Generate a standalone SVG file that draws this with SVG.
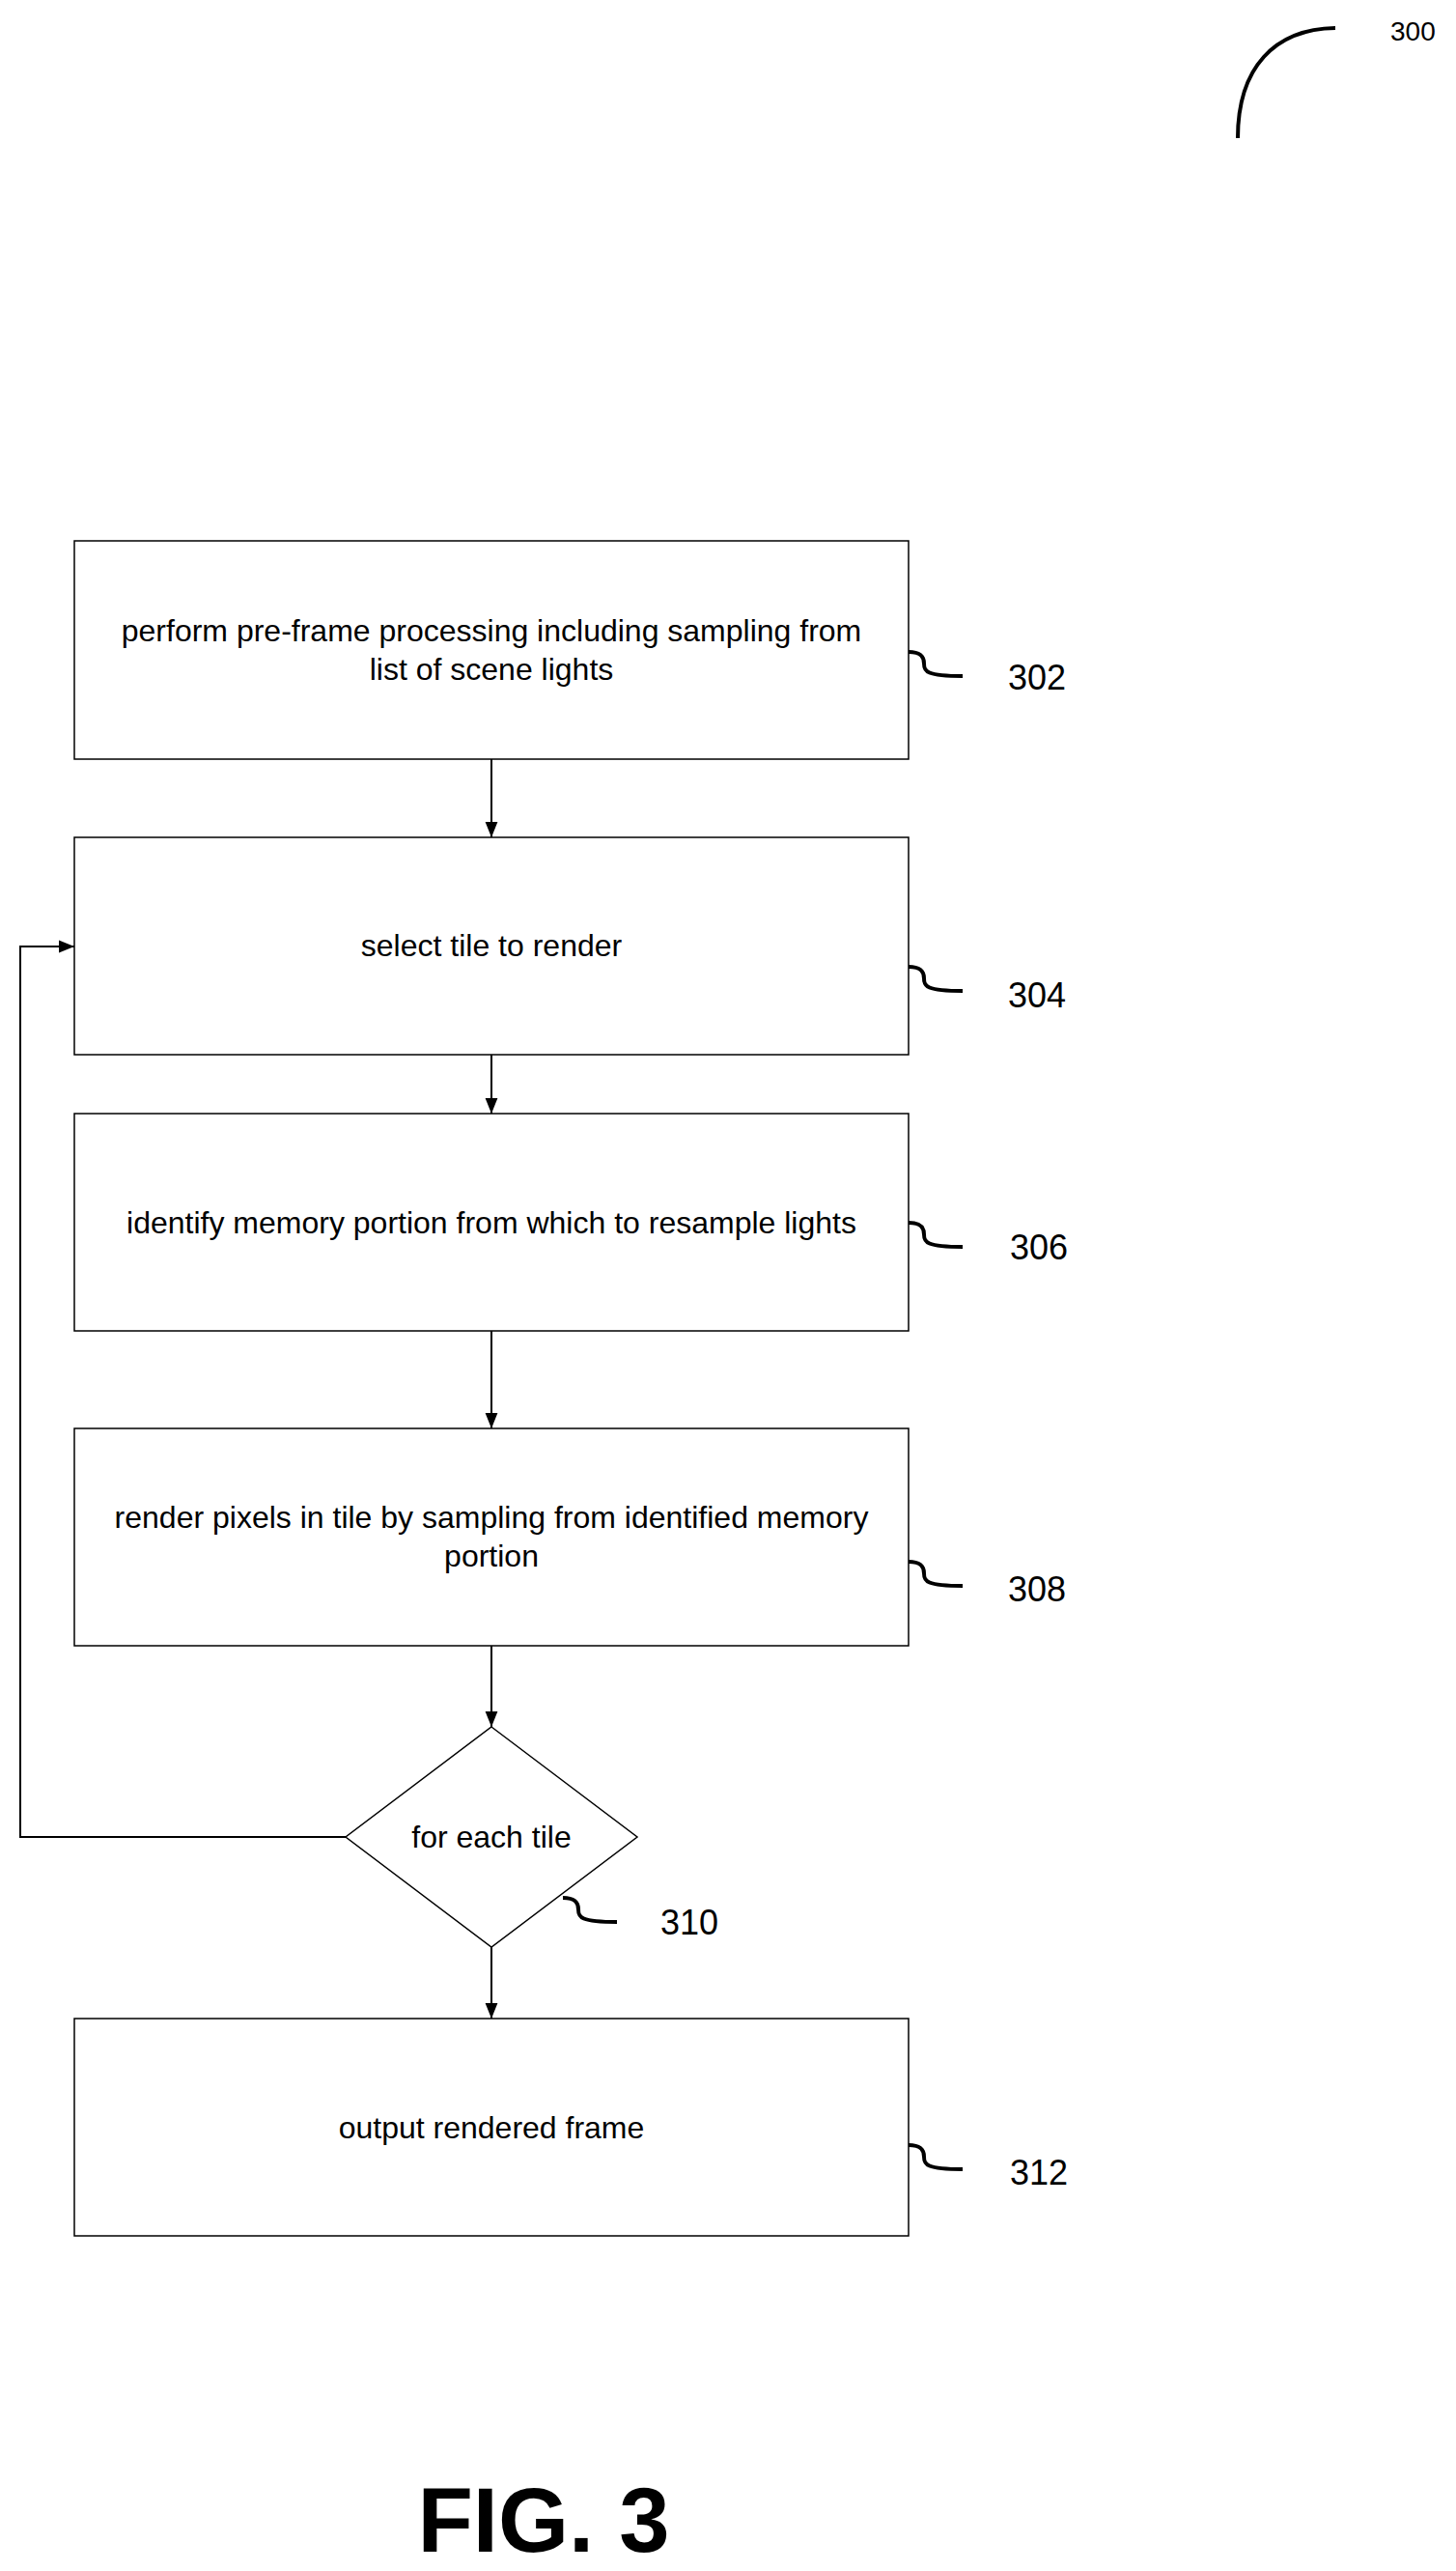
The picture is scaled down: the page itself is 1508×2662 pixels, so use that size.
<svg xmlns="http://www.w3.org/2000/svg" width="1508" height="2662" viewBox="0 0 1508 2662">
<style>
.box{fill:#fff;stroke:#000;stroke-width:1.5}
.t{font-family:"Liberation Sans",Arial,sans-serif;font-size:32px;text-anchor:middle;fill:#000}
.n{font-family:"Liberation Sans",Arial,sans-serif;font-size:36px;fill:#000}
.sq{fill:none;stroke:#000;stroke-width:4}
.c{fill:none;stroke:#000;stroke-width:2}
</style>
<defs>
<marker id="ah" markerWidth="16" markerHeight="20" refX="20" refY="10" orient="auto" markerUnits="userSpaceOnUse" viewBox="0 0 20 20">
<path d="M0,2 L20,10 L0,18 Z" fill="#000"/>
</marker>
</defs>
<rect width="1508" height="2662" fill="#fff"/>
<g id="ref300">
<path class="sq" d="M1282,143 C1282,70 1320,30 1383,29"/>
<text x="1440" y="42" font-family="Liberation Sans,Arial,sans-serif" font-size="28">300</text>
</g>
<g id="n302">
<rect class="box" x="77" y="560" width="864" height="226"/>
<text class="t" x="509" y="664">perform pre-frame processing including sampling from</text>
<text class="t" x="509" y="704">list of scene lights</text>
<path class="sq" d="M941,675 c14,0 16,6 16,12 c0,8 2,13 40,13"/>
<text class="n" x="1044" y="714">302</text>
</g>
<g id="n304">
<rect class="box" x="77" y="867" width="864" height="225"/>
<text class="t" x="509" y="990">select tile to render</text>
<path class="sq" d="M941,1001 c14,0 16,6 16,12 c0,8 2,13 40,13"/>
<text class="n" x="1044" y="1043">304</text>
</g>
<g id="n306">
<rect class="box" x="77" y="1153" width="864" height="225"/>
<text class="t" x="509" y="1277">identify memory portion from which to resample lights</text>
<path class="sq" d="M941,1266 c14,0 16,6 16,12 c0,8 2,13 40,13"/>
<text class="n" x="1046" y="1304">306</text>
</g>
<g id="n308">
<rect class="box" x="77" y="1479" width="864" height="225"/>
<text class="t" x="509" y="1582">render pixels in tile by sampling from identified memory</text>
<text class="t" x="509" y="1622">portion</text>
<path class="sq" d="M941,1617 c14,0 16,6 16,12 c0,8 2,13 40,13"/>
<text class="n" x="1044" y="1658">308</text>
</g>
<g id="n310">
<polygon class="box" points="509,1788 660,1902 509,2016 358,1902"/>
<text class="t" x="509" y="1913">for each tile</text>
<path class="sq" d="M583,1965 c14,0 16,6 16,12 c0,8 2,13 40,13"/>
<text class="n" x="684" y="2003">310</text>
</g>
<g id="n312">
<rect class="box" x="77" y="2090" width="864" height="225"/>
<text class="t" x="509" y="2214">output rendered frame</text>
<path class="sq" d="M941,2221 c14,0 16,6 16,12 c0,8 2,13 40,13"/>
<text class="n" x="1046" y="2262">312</text>
</g>
<g id="connectors">
<line class="c" x1="509" y1="786" x2="509" y2="867" marker-end="url(#ah)"/>
<line class="c" x1="509" y1="1092" x2="509" y2="1153" marker-end="url(#ah)"/>
<line class="c" x1="509" y1="1378" x2="509" y2="1479" marker-end="url(#ah)"/>
<line class="c" x1="509" y1="1704" x2="509" y2="1788" marker-end="url(#ah)"/>
<line class="c" x1="509" y1="2016" x2="509" y2="2090" marker-end="url(#ah)"/>
<polyline class="c" points="358,1902 21,1902 21,980 77,980" marker-end="url(#ah)"/>
</g>
<text x="563" y="2642" font-family="Liberation Sans,Arial,sans-serif" font-size="94" font-weight="bold" text-anchor="middle">FIG. 3</text>
</svg>
